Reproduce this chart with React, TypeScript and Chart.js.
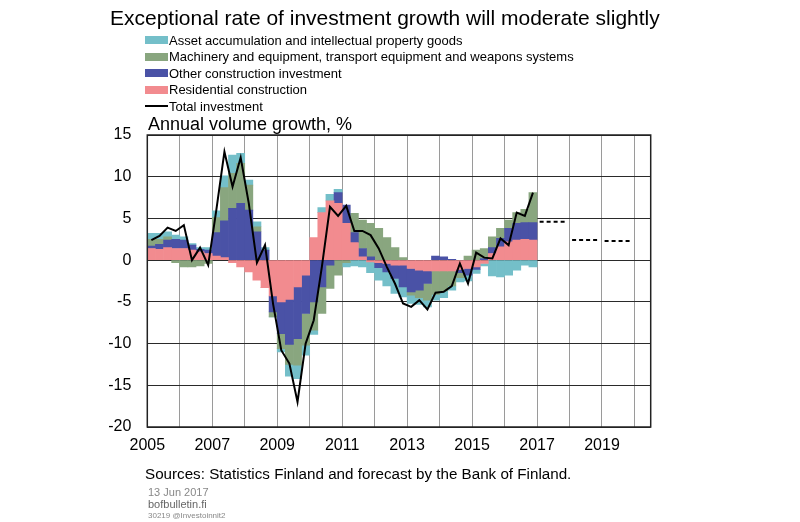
import React, { useEffect, useRef } from "react";
import { Chart, registerables } from "chart.js";

Chart.register(...registerables);

const FONT = '"Liberation Sans", Arial, Helvetica, sans-serif';

const quarterLabels = [
  "2005Q1", "2005Q2", "2005Q3", "2005Q4",
  "2006Q1", "2006Q2", "2006Q3", "2006Q4",
  "2007Q1", "2007Q2", "2007Q3", "2007Q4",
  "2008Q1", "2008Q2", "2008Q3", "2008Q4",
  "2009Q1", "2009Q2", "2009Q3", "2009Q4",
  "2010Q1", "2010Q2", "2010Q3", "2010Q4",
  "2011Q1", "2011Q2", "2011Q3", "2011Q4",
  "2012Q1", "2012Q2", "2012Q3", "2012Q4",
  "2013Q1", "2013Q2", "2013Q3", "2013Q4",
  "2014Q1", "2014Q2", "2014Q3", "2014Q4",
  "2015Q1", "2015Q2", "2015Q3", "2015Q4",
  "2016Q1", "2016Q2", "2016Q3", "2016Q4",
];

const residential = [
  1.4, 1.3, 1.5, 1.4,
  1.4, 1.2, 1.0, 0.8,
  0.5, 0.3, -0.3, -0.8,
  -1.4, -2.4, -3.3, -4.3,
  -5.0, -4.7, -3.2, -1.8,
  2.7, 5.7, 7.1, 6.8,
  4.4, 2.1, 0.4, -0.2,
  -0.3, -0.4, -0.6, -0.6,
  -1.0, -1.2, -1.3, -1.3,
  -1.3, -1.3, -1.1, -1.0,
  -0.8, -0.4, 0.8, 1.6,
  2.2, 2.4, 2.5, 2.4,
];

const otherConstruction = [
  0.3, 0.6, 0.9, 1.1,
  1.0, 0.6, 0.3, 0.4,
  2.8, 4.4, 6.2, 6.8,
  6.0, 3.4, 1.2, -1.9,
  -3.8, -5.4, -6.2, -4.6,
  -5.0, -3.2, -0.6, 1.3,
  2.2, 1.2, 1.0, 0.4,
  -0.6, -1.0, -1.6, -2.6,
  -2.8, -2.4, -1.5, 0.5,
  0.4, 0.1, -0.4, -0.8,
  -0.3, 0.2, 0.7, 1.0,
  1.6, 2.0, 2.0, 2.1,
];

const machinery = [
  0.8, 0.6, 0.4, -0.3,
  -0.8, -0.8, -0.7, -0.4,
  1.8, 4.0, 4.2, 4.8,
  3.0, 0.6, 0.0, -0.6,
  -1.8, -2.4, -3.2, -3.8,
  -3.4, -3.2, -2.8, -1.8,
  -0.3, 2.3, 3.4, 4.0,
  3.8, 2.7, 1.5, 0.3,
  -0.4, -0.9, -2.0, -2.8,
  -2.4, -1.8, -0.6, 0.5,
  1.2, 1.2, 1.3, 1.2,
  1.0, 1.3, 1.6, 3.6,
];

const assets = [
  0.7, 0.7, 0.6, 0.5,
  0.4, 0.2, 0.2, 0.3,
  0.8, 1.4, 2.2, 1.2,
  0.6, 0.6, 0.3, 0.0,
  -0.4, -1.4, -1.6, -1.2,
  -0.5, 0.6, 0.8, 0.4,
  -0.5, -0.7, -0.8, -1.3,
  -1.5, -1.7, -1.8, -1.2,
  -1.0, -0.8, -0.8, -0.7,
  -0.8, -0.5, -0.5, -0.7,
  -0.5, -0.3, -1.9, -2.0,
  -1.8, -1.2, -0.6, -0.8,
];

const totalInvestment = [
  2.4, 2.9, 3.9, 3.5,
  4.2, 0.0, 1.5, -0.6,
  6.0, 13.0, 8.8, 12.3,
  6.8, -0.3, 1.8, -5.3,
  -10.8, -12.4, -17.0, -10.0,
  -7.2, -0.8, 6.4, 5.3,
  6.5, 3.5, 3.5, 3.0,
  1.4, -0.8, -2.8, -5.2,
  -5.6, -4.8, -5.9, -3.9,
  -3.8, -3.1, -0.4, -2.8,
  0.9, 0.3, 0.2, 2.6,
  1.8, 5.7, 5.3, 8.1,
];

const forecastYears = [2017, 2018, 2019];
const forecastValues = [4.6, 2.4, 2.3];

const xTickYears = [2005, 2007, 2009, 2011, 2013, 2015, 2017, 2019];
const yTicks = [15, 10, 5, 0, -5, -10, -15, -20];

const seriesNames = {
  assets: "Asset accumulation and intellectual property goods",
  machinery: "Machinery and equipment, transport equipment and weapons systems",
  other: "Other construction investment",
  residential: "Residential construction",
  total: "Total investment",
};

const COLORS = {
  assets: "#74bfc9",
  machinery: "#89a67f",
  other: "#4a52a6",
  residential: "#f28b8f",
  total: "#000000",
};

const legendItems: { key: keyof typeof COLORS; kind: "box" | "line" }[] = [
  { key: "assets", kind: "box" },
  { key: "machinery", kind: "box" },
  { key: "other", kind: "box" },
  { key: "residential", kind: "box" },
  { key: "total", kind: "line" },
];

function quarterToX(label: string): number {
  const year = parseInt(label.slice(0, 4), 10);
  const q = parseInt(label.slice(5), 10);
  return year + (q - 0.5) / 4;
}

export default function App() {
  const canvasRef = useRef<HTMLCanvasElement | null>(null);

  useEffect(() => {
    if (!canvasRef.current) return;
    const pts = (vals: number[]) =>
      quarterLabels.map((l, i) => ({ x: quarterToX(l), y: vals[i] }));

    const forecastPts: { x: number; y: number | null }[] = [];
    forecastYears.forEach((yr, i) => {
      forecastPts.push({ x: yr + 0.08, y: forecastValues[i] });
      forecastPts.push({ x: yr + 0.92, y: forecastValues[i] });
      forecastPts.push({ x: yr + 0.96, y: null });
    });

    const plotBorder = {
      id: "plotBorder",
      afterDraw(chart: any) {
        const { ctx, chartArea: a } = chart;
        ctx.save();
        ctx.strokeStyle = "#222";
        ctx.lineWidth = 1.5;
        ctx.strokeRect(a.left, a.top, a.right - a.left, a.bottom - a.top);
        ctx.restore();
      },
    };

    const barCommon = {
      type: "bar" as const,
      stack: "parts",
      order: 1,
      barPercentage: 1,
      categoryPercentage: 1,
      borderWidth: 0,
    };

    const chart = new Chart(canvasRef.current, {
      type: "bar",
      data: {
        datasets: [
          { ...barCommon, label: seriesNames.residential, data: pts(residential), backgroundColor: COLORS.residential },
          { ...barCommon, label: seriesNames.other, data: pts(otherConstruction), backgroundColor: COLORS.other },
          { ...barCommon, label: seriesNames.machinery, data: pts(machinery), backgroundColor: COLORS.machinery },
          { ...barCommon, label: seriesNames.assets, data: pts(assets), backgroundColor: COLORS.assets },
          {
            type: "line",
            label: seriesNames.total,
            data: pts(totalInvestment),
            borderColor: COLORS.total,
            borderWidth: 2,
            pointRadius: 0,
            tension: 0,
            order: 0,
            stack: "total",
          } as any,
          {
            type: "line",
            label: "Forecast",
            data: forecastPts,
            borderColor: "#000",
            borderWidth: 2,
            borderDash: [4, 3],
            pointRadius: 0,
            spanGaps: false,
            order: 0,
            stack: "forecast",
          } as any,
        ],
      } as any,
      options: {
        animation: false,
        responsive: false,
        events: [],
        layout: { padding: { left: 0, right: 149.3, top: 135, bottom: 0 } },
        plugins: { legend: { display: false }, tooltip: { enabled: false }, title: { display: false } },
        scales: {
          x: {
            type: "linear",
            min: 2005,
            max: 2020.5,
            offset: false,
            z: 1,
            afterFit: (s: any) => {
              s.height = 95;
            },
            grid: { color: "rgba(120,120,120,0.75)", drawTicks: false, offset: false, lineWidth: 1 },
            border: { display: false },
            ticks: {
              stepSize: 1,
              includeBounds: false,
              autoSkip: false,
              maxRotation: 0,
              minRotation: 0,
              padding: 9,
              color: "#000",
              font: { family: FONT, size: 16 },
              callback: (v: any) => (xTickYears.includes(Number(v)) ? String(v) : ""),
            },
          },
          y: {
            stacked: true,
            min: yTicks[yTicks.length - 1],
            max: yTicks[0],
            z: 1,
            afterFit: (s: any) => {
              s.width = 147.3;
            },
            grid: { color: "#2a2a2a", drawTicks: false, lineWidth: 1 },
            border: { display: false },
            ticks: {
              stepSize: 5,
              padding: 16,
              color: "#000",
              font: { family: FONT, size: 16 },
            },
          },
        },
      } as any,
      plugins: [plotBorder],
    });

    return () => chart.destroy();
  }, []);

  return (
    <div style={{ position: "fixed", left: 0, top: 0, width: 800, height: 522, background: "#fff", fontFamily: FONT, color: "#000" }}>
      <canvas ref={canvasRef} width={800} height={522} style={{ position: "absolute", left: 0, top: 0, width: 800, height: 522 }} />
      <div style={{ position: "absolute", left: 110, top: 4, fontSize: 21, whiteSpace: "nowrap", lineHeight: "28px" }}>
        Exceptional rate of investment growth will moderate slightly
      </div>
      {legendItems.map((it, i) => (
        <div key={it.key} style={{ position: "absolute", left: 145, top: 31.5 + i * 16.5, height: 17, display: "flex", alignItems: "center", fontSize: 13, whiteSpace: "nowrap" }}>
          {it.kind === "box" ? (
            <span style={{ display: "inline-block", width: 23, height: 8, background: COLORS[it.key], marginRight: 1 }} />
          ) : (
            <span style={{ display: "inline-block", width: 23, height: 2, background: COLORS[it.key], marginRight: 1 }} />
          )}
          <span>{seriesNames[it.key]}</span>
        </div>
      ))}
      <div style={{ position: "absolute", left: 148, top: 113, fontSize: 18, whiteSpace: "nowrap", lineHeight: "22px" }}>
        Annual volume growth, %
      </div>
      <div style={{ position: "absolute", left: 145, top: 465, fontSize: 15.2, whiteSpace: "nowrap", lineHeight: "18px" }}>
        Sources: Statistics Finland and forecast by the Bank of Finland.
      </div>
      <div style={{ position: "absolute", left: 148, top: 486, fontSize: 11, color: "#888", whiteSpace: "nowrap", lineHeight: "13px" }}>
        13 Jun 2017
      </div>
      <div style={{ position: "absolute", left: 148, top: 498, fontSize: 11, color: "#666", whiteSpace: "nowrap", lineHeight: "13px" }}>
        bofbulletin.fi
      </div>
      <div style={{ position: "absolute", left: 148, top: 511, fontSize: 8, color: "#888", whiteSpace: "nowrap", lineHeight: "10px" }}>
        30219 @Investoinnit2
      </div>
    </div>
  );
}
